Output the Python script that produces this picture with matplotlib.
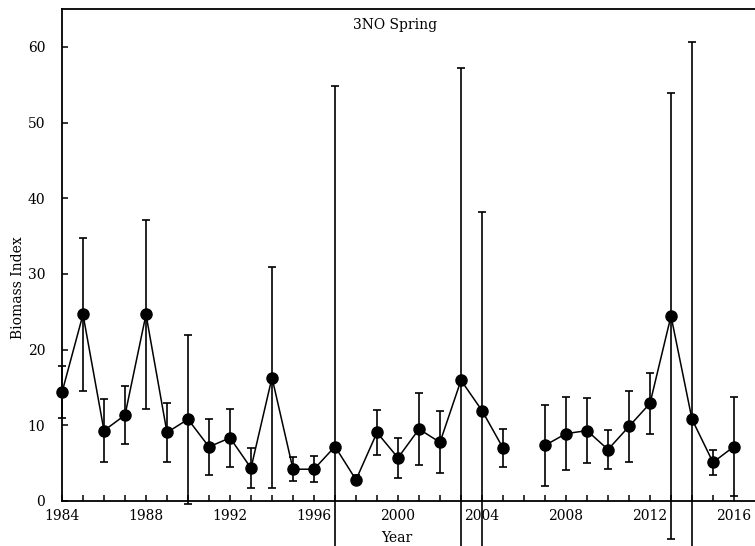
import numpy as np
import matplotlib
matplotlib.use("Agg")
import matplotlib.pyplot as plt

years = list(range(1984, 2017))
biomass = [14.35, 24.65, 9.3, 11.35, 24.65, 9.05, 10.8, 7.15, 8.35, 4.35,
           16.3, 4.2, 4.2, 7.2, 2.8, 9.05, 5.7, 9.5, 7.75, 15.95,
           11.95, 7.0, np.nan, 7.35, 8.9, 9.3, 6.8, 9.85, 12.9, 24.45,
           10.8, 5.1, 7.2]
err = [3.45, 10.1, 4.2, 3.8, 12.5, 3.9, 11.15, 3.7, 3.85, 2.6,
       14.6, 1.6, 1.7, 47.6, 0.6, 3.0, 2.6, 4.8, 4.1, 41.2,
       26.2, 2.45, np.nan, 5.35, 4.85, 4.3, 2.6, 4.65, 4.0, 29.5,
       49.8, 1.7, 6.6]
title = "3NO Spring"
xticks = [1984, 1988, 1992, 1996, 2000, 2004, 2008, 2012, 2016]
yticks = [0, 10, 20, 30, 40, 50, 60]

plt.rcParams['font.family'] = ['DejaVu Serif']
fig = plt.figure(figsize=(7.55, 5.46), dpi=100)
ax = fig.add_axes([62/755, 45/546, 693/755, 492/546])

ax.errorbar(years, biomass, yerr=err, fmt='none', ecolor='black',
            elinewidth=1.2, capsize=2.6, capthick=1.2, clip_on=False, zorder=2)
ax.plot(years, biomass, color='black', lw=1.1, marker='o', ms=8,
        clip_on=False, zorder=3)

ax.set_xlim(1984, 2017)
ax.set_ylim(0, 65)
ax.set_xticks(xticks)
ax.set_xticks(years, minor=True)
ax.set_yticks(yticks)
ax.tick_params(axis='x', which='both', direction='in', length=4, width=1.1,
               labelsize=10, pad=6)
ax.tick_params(axis='y', which='both', direction='in', length=4, width=1.1,
               labelsize=10, pad=12)
ax.spines['right'].set_visible(False)
for s in ['left', 'bottom', 'top']:
    ax.spines[s].set_linewidth(1.3)

ax.set_xlabel("Year", fontsize=10)
ax.xaxis.set_label_coords(0.483, -0.06)
ax.set_ylabel("Biomass Index", fontsize=10)
ax.yaxis.set_label_coords(-0.054, 0.433)
ax.text(0.48, 0.967, title, transform=ax.transAxes, ha='center', va='center',
        fontsize=10)

fig.savefig("out.png", dpi=100)
